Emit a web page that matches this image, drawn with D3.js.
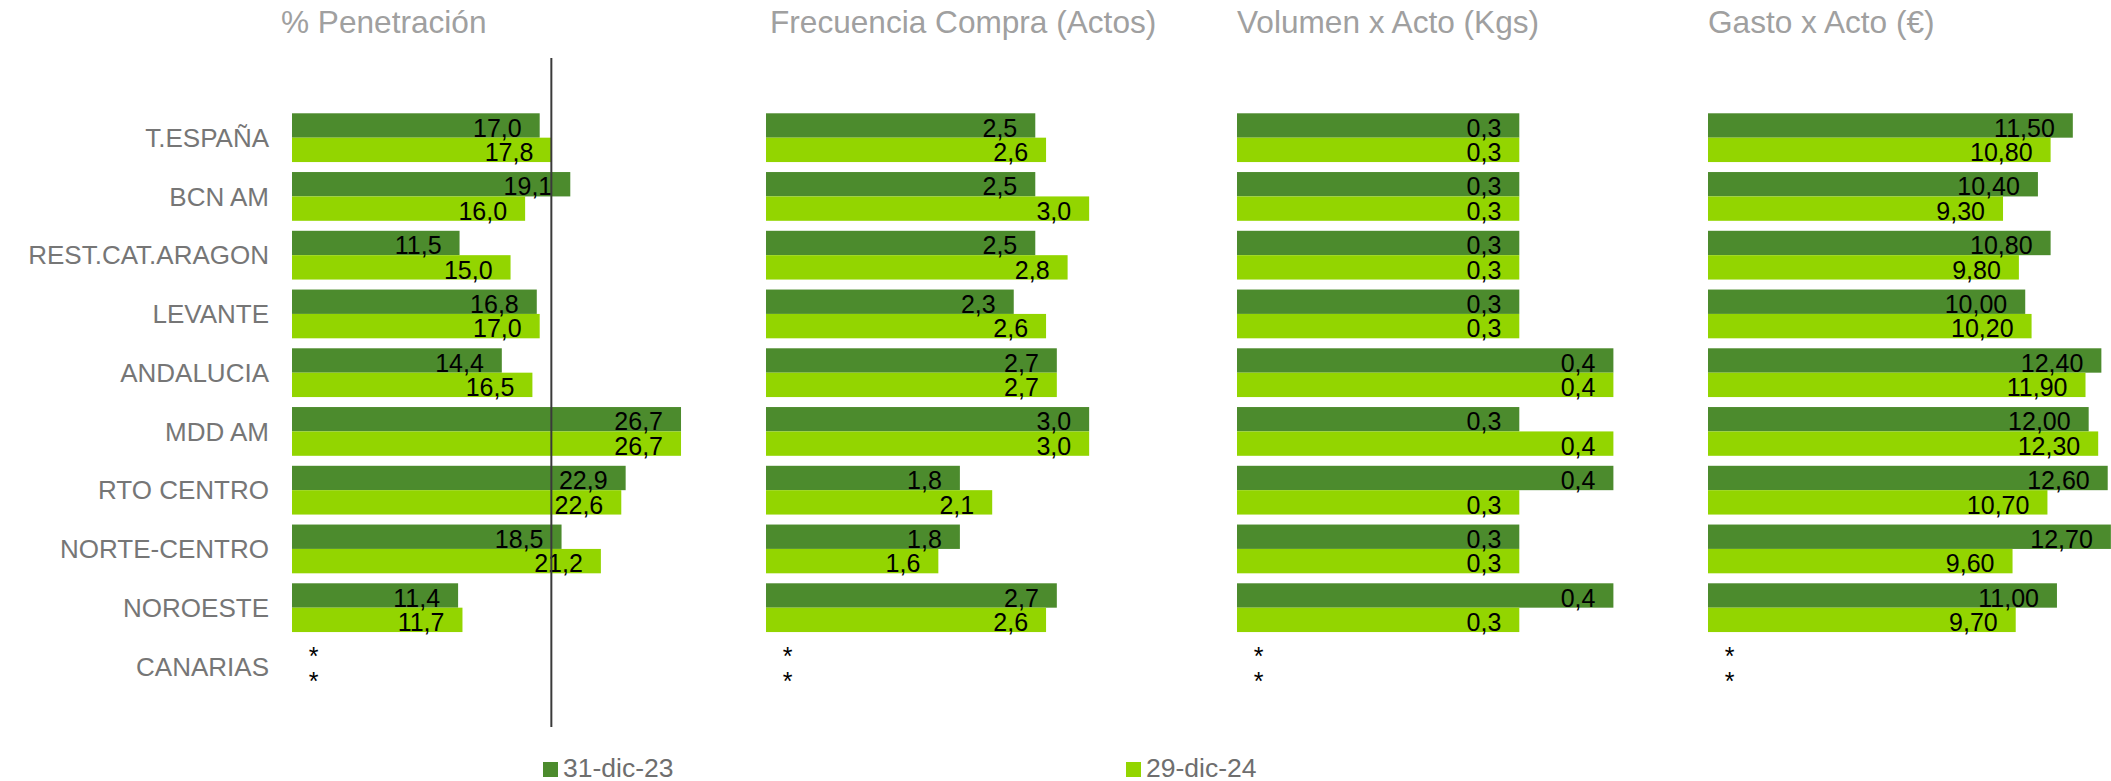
<!DOCTYPE html>
<html>
<head>
<meta charset="utf-8">
<script src="https://cdn.jsdelivr.net/npm/d3@7"></script>
<style>
  body { margin: 0; background: #fff; }
  text { font-family: "Liberation Sans", Arial, sans-serif; }
</style>
</head>
<body>
<div id="chart"></div>
<script>
// categories and series
var categories = ["T.ESPAÑA", "BCN AM", "REST.CAT.ARAGON", "LEVANTE", "ANDALUCIA",
                  "MDD AM", "RTO CENTRO", "NORTE-CENTRO", "NOROESTE", "CANARIAS"];
var seriesNames = ["31-dic-23", "29-dic-24"];

var penetracion23 = [17.0, 19.1, 11.5, 16.8, 14.4, 26.7, 22.9, 18.5, 11.4, null];
var penetracion24 = [17.8, 16.0, 15.0, 17.0, 16.5, 26.7, 22.6, 21.2, 11.7, null];
var frecuencia23  = [2.5, 2.5, 2.5, 2.3, 2.7, 3.0, 1.8, 1.8, 2.7, null];
var frecuencia24  = [2.6, 3.0, 2.8, 2.6, 2.7, 3.0, 2.1, 1.6, 2.6, null];
var volumen23     = [0.3, 0.3, 0.3, 0.3, 0.4, 0.3, 0.4, 0.3, 0.4, null];
var volumen24     = [0.3, 0.3, 0.3, 0.3, 0.4, 0.4, 0.3, 0.3, 0.3, null];
var gasto23       = [11.50, 10.40, 10.80, 10.00, 12.40, 12.00, 12.60, 12.70, 11.00, null];
var gasto24       = [10.80, 9.30, 9.80, 10.20, 11.90, 12.30, 10.70, 9.60, 9.70, null];

var panelTitles = ["% Penetración", "Frecuencia Compra (Actos)", "Volumen x Acto (Kgs)", "Gasto x Acto (€)"];

var colors = ["#4c8b2d", "#93d500"];

var width = 2111, height = 781;

var svg = d3.select("#chart")
  .append("svg")
    .attr("width", width)
    .attr("height", height);

// panels: bar start, domain max, range width, decimals, title x
var panels = [
  {title: panelTitles[0], a: penetracion23, b: penetracion24, x0: 292,  max: 30,  w: 437.1, dec: 1, tx: 281},
  {title: panelTitles[1], a: frecuencia23,  b: frecuencia24,  x0: 766,  max: 3.5, w: 377,   dec: 1, tx: 770},
  {title: panelTitles[2], a: volumen23,     b: volumen24,     x0: 1237, max: 0.5, w: 470.5, dec: 1, tx: 1237},
  {title: panelTitles[3], a: gasto23,       b: gasto24,       x0: 1708, max: 13,  w: 412.4, dec: 2, tx: 1708}
];

// Y axis (categories)
var y = d3.scaleBand()
  .domain(categories)
  .range([108.3, 108.3 + 58.75 * categories.length])
  .paddingInner(0.17)
  .paddingOuter(0.085);

var ySub = d3.scaleBand()
  .domain([0, 1])
  .range([0, y.bandwidth()]);

svg.append("g")
  .selectAll("text")
  .data(categories)
  .enter()
  .append("text")
    .attr("x", 269)
    .attr("y", function(d) { return y(d) + y.bandwidth() / 2; })
    .attr("dy", "0.35em")
    .attr("text-anchor", "end")
    .style("font-size", "26px")
    .style("fill", "#767676")
    .text(function(d) { return d; });

function fmt(v, dec) {
  return v.toFixed(dec).replace(".", ",");
}

var x1 = null;

panels.forEach(function(p, pi) {
  var x = d3.scaleLinear()
    .domain([0, p.max])
    .range([p.x0, p.x0 + p.w]);
  if (pi === 0) x1 = x;

  svg.append("text")
    .attr("x", p.tx)
    .attr("y", 32.5)
    .style("font-size", "31.6px")
    .style("fill", "#a0a0a0")
    .text(p.title);

  var rows = [];
  categories.forEach(function(c, i) {
    rows.push({cat: c, s: 0, v: p.a[i]});
    rows.push({cat: c, s: 1, v: p.b[i]});
  });

  var g = svg.append("g");

  g.selectAll("rect")
    .data(rows.filter(function(d) { return d.v != null; }))
    .enter()
    .append("rect")
      .attr("x", x(0))
      .attr("y", function(d) { return y(d.cat) + ySub(d.s); })
      .attr("width", function(d) { return x(d.v) - x(0); })
      .attr("height", ySub.bandwidth())
      .attr("fill", function(d) { return colors[d.s]; });

  g.selectAll("text")
    .data(rows)
    .enter()
    .append("text")
      .attr("x", function(d) { return d.v == null ? x(0) + 21.5 : x(d.v) - 18; })
      .attr("y", function(d) { return y(d.cat) + ySub(d.s) + ySub.bandwidth() - 1; })
      .attr("text-anchor", function(d) { return d.v == null ? "middle" : "end"; })
      .style("font-size", "25px")
      .style("fill", "#000")
      .text(function(d) { return d.v == null ? "*" : fmt(d.v, p.dec); });
});

// reference line at T.ESPAÑA latest value
svg.append("line")
  .attr("x1", x1(penetracion24[0]))
  .attr("x2", x1(penetracion24[0]))
  .attr("y1", 58)
  .attr("y2", 727)
  .attr("stroke", "#3a3a3a")
  .attr("stroke-width", 2);

// legend
var legendX = [543, 1126];
var legend = svg.append("g")
  .selectAll("g")
  .data(seriesNames)
  .enter()
  .append("g")
    .attr("transform", function(d, i) { return "translate(" + legendX[i] + ",762)"; });

legend.append("rect")
  .attr("width", 15)
  .attr("height", 15)
  .attr("fill", function(d, i) { return colors[i]; });

legend.append("text")
  .attr("x", 20)
  .attr("y", 14.5)
  .style("font-size", "26.5px")
  .style("fill", "#6e6e6e")
  .text(function(d) { return d; });
</script>
</body>
</html>
